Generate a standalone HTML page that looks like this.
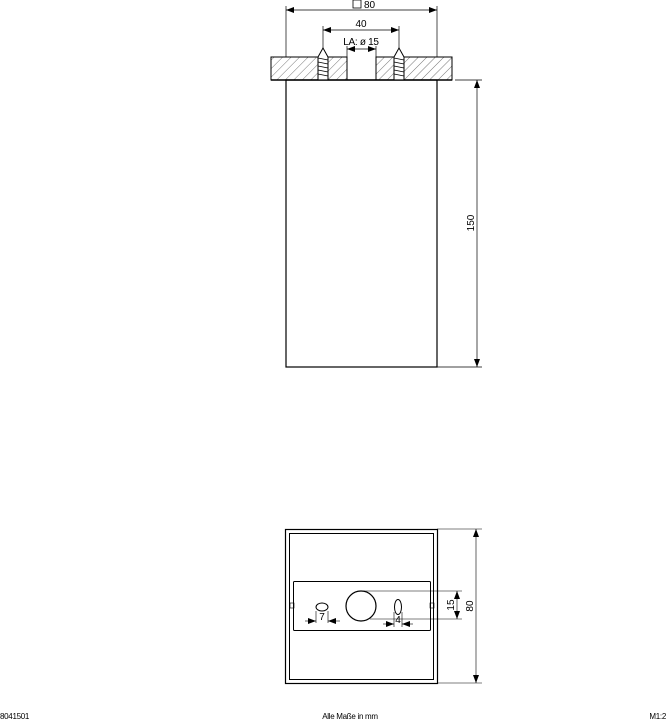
<!DOCTYPE html>
<html><head><meta charset="utf-8"><style>
html,body{margin:0;padding:0;background:#fff;width:668px;height:720px;overflow:hidden}
svg{display:block}
text{font-family:"Liberation Sans",sans-serif;fill:#000}
</style></head><body>
<svg width="668" height="720" viewBox="0 0 668 720" xmlns="http://www.w3.org/2000/svg">
<defs>
<pattern id="h" width="6" height="6" patternUnits="userSpaceOnUse" patternTransform="rotate(45)">
<line x1="0" y1="0" x2="0" y2="6" stroke="#555" stroke-width="0.8"/>
</pattern>
<marker id="a" markerWidth="8" markerHeight="6" refX="8" refY="3" orient="auto-start-reverse" markerUnits="userSpaceOnUse">
<path d="M0,0 L8,3 L0,6 z" fill="#000"/></marker>
</defs>
<g stroke="#000" fill="none" stroke-width="1">
<rect x="271" y="57" width="76" height="23" fill="url(#h)"/>
<rect x="376" y="57" width="76" height="23" fill="url(#h)"/>
<line x1="271" y1="80" x2="452" y2="80" stroke-width="1.5"/>
<g fill="#fff">
<path d="M318,80 L318,57 L323,48 L328,57 L328,80 Z"/>
<path d="M394,80 L394,57 L399,48 L404,57 L404,80 Z"/>
</g>
<g stroke-width="0.8">
<path d="M318,58 L328,60 M318,62 L328,64 M318,66 L328,68 M318,70 L328,72 M318,74 L328,76"/>
<path d="M394,58 L404,60 M394,62 L404,64 M394,66 L404,68 M394,70 L404,72 M394,74 L404,76"/>
</g>
<rect x="286" y="80" width="151" height="287" stroke-width="1.2"/>
<line x1="286" y1="6" x2="286" y2="57" stroke-width="0.7"/>
<line x1="437" y1="6" x2="437" y2="57" stroke-width="0.7"/>
<line x1="286" y1="10" x2="437" y2="10" stroke-width="0.7" marker-start="url(#a)" marker-end="url(#a)"/>
<line x1="323" y1="26" x2="323" y2="48" stroke-width="0.7"/>
<line x1="399" y1="26" x2="399" y2="48" stroke-width="0.7"/>
<line x1="323" y1="30" x2="399" y2="30" stroke-width="0.7" marker-start="url(#a)" marker-end="url(#a)"/>
<line x1="347" y1="46" x2="347" y2="57" stroke-width="0.7"/>
<line x1="376" y1="46" x2="376" y2="57" stroke-width="0.7"/>
<line x1="347" y1="49" x2="376" y2="49" stroke-width="0.7" marker-start="url(#a)" marker-end="url(#a)"/>
<rect x="353" y="0" width="8" height="8" stroke-width="0.8"/>
<line x1="455" y1="80" x2="482" y2="80" stroke-width="0.7"/>
<line x1="437" y1="367" x2="482" y2="367" stroke-width="0.7"/>
<line x1="477" y1="80" x2="477" y2="367" stroke-width="0.7" marker-start="url(#a)" marker-end="url(#a)"/>
<rect x="285.5" y="529.5" width="152" height="154" stroke-width="1.2"/>
<rect x="289.5" y="533.5" width="144" height="146" stroke-width="1"/>
<rect x="293.5" y="581.5" width="137" height="49" rx="1"/>
<rect x="290" y="603" width="4" height="5" stroke-width="0.6"/>
<rect x="430" y="603" width="4" height="5" stroke-width="0.6"/>
<circle cx="361" cy="606" r="15" stroke-width="1.2"/>
<ellipse cx="322" cy="607" rx="6" ry="4"/>
<ellipse cx="398" cy="607" rx="3.5" ry="7.5"/>
<line x1="316" y1="611" x2="316" y2="623" stroke-width="0.6"/>
<line x1="328" y1="611" x2="328" y2="623" stroke-width="0.6"/>
<line x1="305" y1="621" x2="316" y2="621" stroke-width="0.6" marker-end="url(#a)"/>
<line x1="340" y1="621" x2="328" y2="621" stroke-width="0.6" marker-end="url(#a)"/>
<line x1="394" y1="612" x2="394" y2="627" stroke-width="0.6"/>
<line x1="402" y1="612" x2="402" y2="627" stroke-width="0.6"/>
<line x1="383" y1="624" x2="394" y2="624" stroke-width="0.6" marker-end="url(#a)"/>
<line x1="413" y1="624" x2="402" y2="624" stroke-width="0.6" marker-end="url(#a)"/>
<line x1="361" y1="591" x2="462" y2="591" stroke-width="0.6"/>
<line x1="370" y1="619" x2="462" y2="619" stroke-width="0.6"/>
<line x1="457" y1="591" x2="457" y2="619" stroke-width="0.6" marker-start="url(#a)" marker-end="url(#a)"/>
<line x1="437" y1="529" x2="482" y2="529" stroke-width="0.6"/>
<line x1="437" y1="683" x2="482" y2="683" stroke-width="0.6"/>
<line x1="476" y1="529" x2="476" y2="683" stroke-width="0.6" marker-start="url(#a)" marker-end="url(#a)"/>
</g>
<g font-size="10">
<text x="364" y="8">80</text>
<text x="361" y="27" text-anchor="middle">40</text>
<text x="361" y="45" text-anchor="middle" letter-spacing="-0.3">LA: ø 15</text>
<text transform="translate(474,223) rotate(-90)" text-anchor="middle">150</text>
<text x="322" y="620" text-anchor="middle">7</text>
<text x="398" y="623" text-anchor="middle">4</text>
<text transform="translate(454,605) rotate(-90)" text-anchor="middle">15</text>
<text transform="translate(473,606) rotate(-90)" text-anchor="middle">80</text>
</g>
<g font-size="8" letter-spacing="-0.3">
<text x="0" y="719">8041501</text>
<text x="350" y="719" text-anchor="middle">Alle Maße in mm</text>
<text x="666" y="719" text-anchor="end">M1:2</text>
</g>
</svg>
</body></html>
